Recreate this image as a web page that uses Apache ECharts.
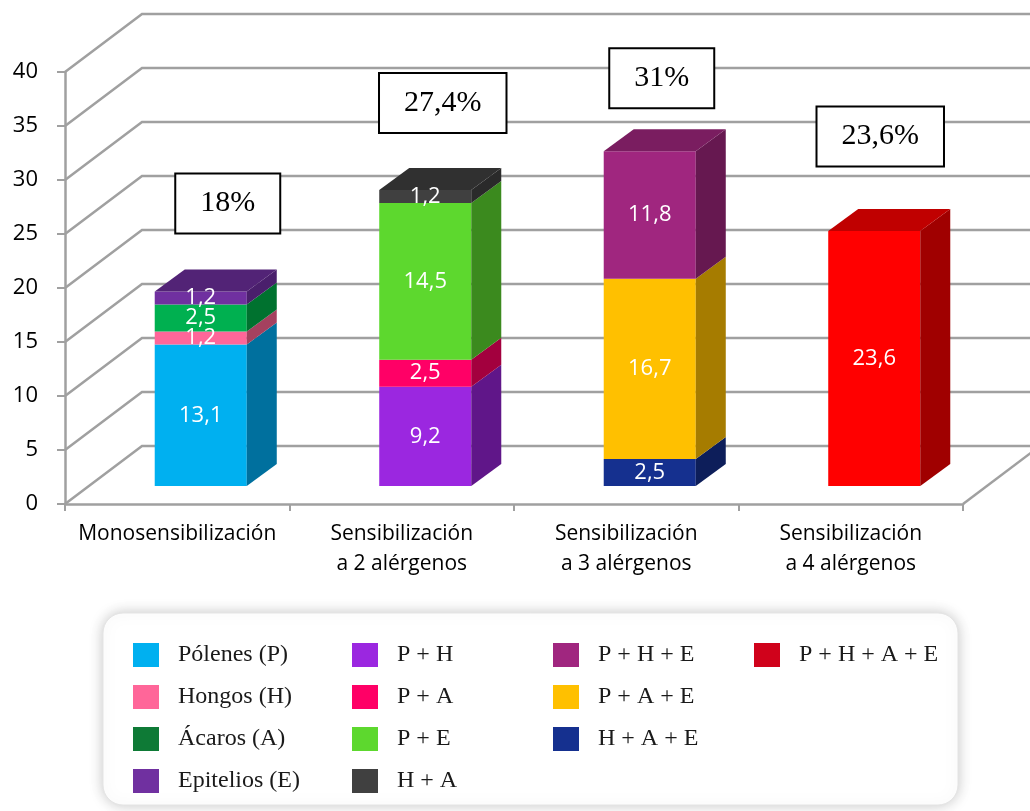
<!DOCTYPE html>
<html>
<head>
<meta charset="utf-8">
<script src="https://cdn.jsdelivr.net/npm/echarts@6/dist/echarts.min.js"></script>
<style>
  html, body { margin: 0; padding: 0; background: #ffffff; }
  #chart { width: 1030px; height: 811px; }
</style>
</head>
<body>
<div id="chart"></div>
<script>
// ---- data ---------------------------------------------------------------
const categories = [
  'Monosensibilización',
  'Sensibilización\na 2 alérgenos',
  'Sensibilización\na 3 alérgenos',
  'Sensibilización\na 4 alérgenos'
];
const yTicks = [0, 5, 10, 15, 20, 25, 30, 35, 40];
const percentLabels = ['18%', '27,4%', '31%', '23,6%'];

// each stack is listed from the floor upward
const monoNames = ['Pólenes (P)', 'Hongos (H)', 'Ácaros (A)', 'Epitelios (E)'];
const monoValues = [13.1, 1.2, 2.5, 1.2];
const dosNames = ['P + H', 'P + A', 'P + E', 'H + A'];
const dosValues = [9.2, 2.5, 14.5, 1.2];
const tresNames = ['H + A + E', 'P + A + E', 'P + H + E'];
const tresValues = [2.5, 16.7, 11.8];
const cuatroNames = ['P + H + A + E'];
const cuatroValues = [23.6];

// legend columns, top to bottom
const legendCol1 = ['Pólenes (P)', 'Hongos (H)', 'Ácaros (A)', 'Epitelios (E)'];
const legendCol2 = ['P + H', 'P + A', 'P + E', 'H + A'];
const legendCol3 = ['P + H + E', 'P + A + E', 'H + A + E'];
const legendCol4 = ['P + H + A + E'];

// ---- styling ------------------------------------------------------------
// front face, side face, top face, legend swatch
const palette = {
  'Pólenes (P)':   ['#00B0F0', '#00709E', '#00618A', '#00B0F0'],
  'Hongos (H)':    ['#FF6699', '#A5415F', '#8F3452', '#FF6699'],
  'Ácaros (A)':    ['#00B050', '#00722F', '#006028', '#0E7A36'],
  'Epitelios (E)': ['#7030A0', '#4A1F6C', '#522376', '#7030A0'],
  'P + H':         ['#9B27E0', '#601689', '#55137A', '#9B27E0'],
  'P + A':         ['#FF0066', '#A3003E', '#8C0035', '#FF0066'],
  'P + E':         ['#5DD82E', '#3B8A1E', '#337A19', '#5DD82E'],
  'H + A':         ['#404040', '#2A2A2A', '#303030', '#404040'],
  'H + A + E':     ['#15308F', '#0D1E5A', '#0B1A4E', '#15308F'],
  'P + A + E':     ['#FFC000', '#A67C00', '#8F6B00', '#FFC000'],
  'P + H + E':     ['#A0267F', '#661850', '#7A1D60', '#A0267F'],
  'P + H + A + E': ['#FF0000', '#A00000', '#C00000', '#D0021B']
};

const GRID = { left: 65, right: 67, top: 72, bottom: 307 };
const WALL_DX = 77, WALL_DY = 58;       // depth of the back wall
const FRONT_DX = 23.5, FRONT_DY = 18;   // bars sit a little behind the front plane
const BAR_DX = 30, BAR_DY = 22;         // bar depth
const BAR_RATIO = 0.41;                 // bar width as share of the category band
const GRID_COLOR = '#A0A0A0';
// percentage box centre, relative to the front-top centre of its bar
const BOX_SHIFT = [[27, -88], [17.5, -87], [12, -73], [6, -94.5]];

const SANS = '"Open Sans", "Noto Sans", sans-serif';
const SERIF = '"Liberation Serif", "DejaVu Serif", serif';

const fmt = v => String(v).replace('.', ',');

// ---- back walls and floor ---------------------------------------------
const wallSeries = {
  type: 'custom',
  silent: true,
  z: 1,
  encode: { x: 0, y: 1 },
  data: yTicks.map(v => [0, v]),
  renderItem: function (params, api) {
    const cs = params.coordSys;
    const y = api.coord([0, api.value(1)])[1];
    const x0 = cs.x, x1 = cs.x + cs.width;
    const children = [{
      type: 'polyline',
      shape: { points: [[x0, y], [x0 + WALL_DX, y - WALL_DY], [x1 + WALL_DX + 10, y - WALL_DY]] },
      style: { stroke: GRID_COLOR, lineWidth: 2.5, fill: null }
    }];
    if (api.value(1) === 0) {
      children.push({
        type: 'line',
        shape: { x1: x1, y1: y, x2: x1 + WALL_DX, y2: y - WALL_DY },
        style: { stroke: GRID_COLOR, lineWidth: 2.5 }
      });
    }
    return { type: 'group', children: children };
  }
};

// ---- stacked 3D bars --------------------------------------------------
function barFrame(api, ci, lo, hi) {
  const band = api.size([1, 0])[0];
  const bw = band * BAR_RATIO;
  const c0 = api.coord([ci, lo]);
  const c1 = api.coord([ci, hi]);
  const xl = c0[0] - bw / 2 + FRONT_DX;
  return { xl: xl, xr: xl + bw, yb: c0[1] - FRONT_DY, yt: c1[1] - FRONT_DY };
}

function segmentSeries(name, ci, lo, hi, isTop) {
  const col = palette[name];
  return {
    type: 'custom',
    name: name,
    z: 3,
    itemStyle: { color: col[0] },
    encode: { x: 0, y: [1, 2] },
    data: [[ci, lo, hi, isTop ? 1 : 0]],
    renderItem: function (params, api) {
      const f = barFrame(api, api.value(0), api.value(1), api.value(2));
      const children = [
        { type: 'rect', shape: { x: f.xl, y: f.yt, width: f.xr - f.xl, height: f.yb - f.yt },
          style: { fill: col[0] } },
        { type: 'polygon',
          shape: { points: [[f.xr, f.yb], [f.xr, f.yt], [f.xr + BAR_DX, f.yt - BAR_DY], [f.xr + BAR_DX, f.yb - BAR_DY]] },
          style: { fill: col[1] } }
      ];
      if (api.value(3) === 1) {
        children.push({ type: 'polygon',
          shape: { points: [[f.xl, f.yt], [f.xr, f.yt], [f.xr + BAR_DX, f.yt - BAR_DY], [f.xl + BAR_DX, f.yt - BAR_DY]] },
          style: { fill: col[2] } });
      }
      children.push({ type: 'text', z2: 10,
        style: { text: fmt(+(api.value(2) - api.value(1)).toFixed(1)), x: (f.xl + f.xr) / 2, y: (f.yt + f.yb) / 2,
          align: 'center', verticalAlign: 'middle', fill: '#ffffff', font: '22px ' + SANS } });
      return { type: 'group', children: children };
    }
  };
}

const stacks = [
  [monoNames, monoValues],
  [dosNames, dosValues],
  [tresNames, tresValues],
  [cuatroNames, cuatroValues]
];
const barSeries = [];
const totals = [];
stacks.forEach(function (stack, ci) {
  let base = 0;
  stack[1].forEach(function (v, j) {
    barSeries.push(segmentSeries(stack[0][j], ci, base, base + v, j === stack[1].length - 1));
    base += v;
  });
  totals.push(base);
});

// ---- percentage boxes -------------------------------------------------
const boxSeries = {
  type: 'custom',
  silent: true,
  z: 5,
  encode: { x: 0, y: 1 },
  data: totals.map((t, ci) => [ci, t]),
  renderItem: function (params, api) {
    const ci = api.value(0);
    const f = barFrame(api, ci, 0, api.value(1));
    return {
      type: 'text',
      style: {
        text: percentLabels[ci],
        x: (f.xl + f.xr) / 2 + BOX_SHIFT[ci][0],
        y: f.yt + BOX_SHIFT[ci][1],
        align: 'center', verticalAlign: 'middle',
        font: '30px ' + SERIF, lineHeight: 30, fill: '#000000',
        backgroundColor: '#ffffff', borderColor: '#000000', borderWidth: 2,
        padding: [14, 24, 14, 24]
      }
    };
  }
};

// ---- legend -------------------------------------------------------------
function legendColumn(names, left) {
  return {
    orient: 'vertical',
    left: left,
    top: 643,
    padding: 0,
    itemWidth: 26,
    itemHeight: 24,
    itemGap: 18,
    icon: 'rect',
    selectedMode: false,
    textStyle: { fontFamily: SERIF, fontSize: 24, lineHeight: 24, color: '#1a1a1a', padding: [0, 0, 0, 14] },
    data: names.map(n => ({ name: n, itemStyle: { color: palette[n][3], borderWidth: 0 } }))
  };
}

const option = {
  backgroundColor: '#ffffff',
  animation: false,
  grid: GRID,
  xAxis: {
    type: 'category',
    data: categories,
    axisLine: { lineStyle: { color: GRID_COLOR, width: 2.5 } },
    axisTick: { show: true, length: 7, interval: 0, lineStyle: { color: GRID_COLOR, width: 2 } },
    axisLabel: { interval: 0, margin: 15, fontFamily: SANS, fontSize: 21, lineHeight: 30, color: '#000000' },
    splitLine: { show: false }
  },
  yAxis: {
    type: 'value',
    min: 0, max: 40, interval: 5,
    axisLine: { show: true, lineStyle: { color: GRID_COLOR, width: 2.5 } },
    axisTick: { show: true, length: 8, lineStyle: { color: GRID_COLOR, width: 2 } },
    axisLabel: { margin: 27, fontFamily: SANS, fontSize: 22, color: '#000000' },
    splitLine: { show: false }
  },
  legend: [
    legendColumn(legendCol1, 133),
    legendColumn(legendCol2, 352),
    legendColumn(legendCol3, 553),
    legendColumn(legendCol4, 754)
  ],
  graphic: [{
    type: 'rect',
    z: 0,
    shape: { x: 103, y: 613, width: 855, height: 192, r: 20 },
    style: { fill: '#ffffff', stroke: '#e4e4e4', lineWidth: 1,
      shadowBlur: 14, shadowColor: 'rgba(0,0,0,0.22)', shadowOffsetX: 0, shadowOffsetY: 0 }
  }],
  series: [wallSeries].concat(barSeries, [boxSeries])
};

const chart = echarts.init(document.getElementById('chart'), null, { renderer: 'canvas' });
chart.setOption(option);
</script>
</body>
</html>
